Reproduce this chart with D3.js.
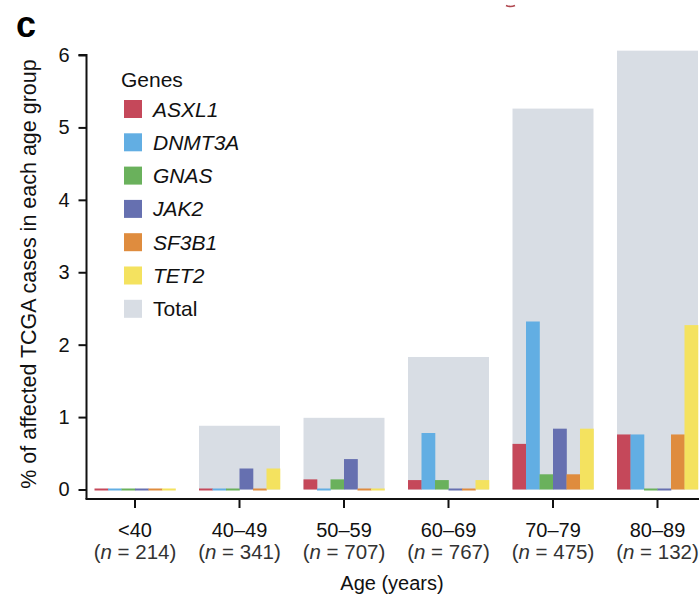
<!DOCTYPE html>
<html>
<head>
<meta charset="utf-8">
<script src="https://cdn.jsdelivr.net/npm/d3@7/dist/d3.min.js"></script>
<style>
  html, body { margin: 0; padding: 0; background: #fff; }
  svg { display: block; font-family: "Liberation Sans", Arial, Helvetica, sans-serif; }
</style>
</head>
<body>
<svg id="chart" width="699" height="596"></svg>
<script>
// Age groups and cohort sizes
const ages = ["<40", "40–49", "50–59", "60–69", "70–79", "80–89"];
const cohortSizes = [214, 341, 707, 767, 475, 132];

// Genes shown in each group and their colours
const genes = ["ASXL1", "DNMT3A", "GNAS", "JAK2", "SF3B1", "TET2"];
const geneColors = ["#c5485a", "#62aee3", "#6ab15c", "#6670b0", "#df8c3e", "#f4e25f"];
const totalColor = "#d8dde4";

// % of affected cases per age group
const asxl1  = [0, 0,    0.14, 0.13, 0.63, 0.76];
const dnmt3a = [0, 0,    0,    0.78, 2.32, 0.76];
const gnas   = [0, 0,    0.14, 0.13, 0.21, 0];
const jak2   = [0, 0.29, 0.42, 0,    0.84, 0];
const sf3b1  = [0, 0,    0,    0,    0.21, 0.76];
const tet2   = [0, 0.29, 0,    0.13, 0.84, 2.27];
const totals = [0, 0.88, 0.99, 1.83, 5.26, 6.06];

const yTicks = [0, 1, 2, 3, 4, 5, 6];

const geneSeries = [asxl1, dnmt3a, gnas, jak2, sf3b1, tet2];

const svg = d3.select("#chart");

const y = d3.scaleLinear().domain([0, 6]).range([489.5, 55]);
const x = d3.scaleBand().domain(ages).range([82.75, 709.75])
  .paddingInner(0.225).paddingOuter(0.1125);
const xg = d3.scaleBand().domain(genes).range([0, x.bandwidth()]);
const color = d3.scaleOrdinal().domain(genes).range(geneColors);

// Total bars behind the gene bars
svg.append("g").selectAll("rect")
  .data(ages.map((a, i) => ({ age: a, v: totals[i] })).filter(d => d.v > 0))
  .join("rect")
  .attr("x", d => x(d.age))
  .attr("width", x.bandwidth())
  .attr("y", d => y(d.v))
  .attr("height", d => y(0) - y(d.v))
  .attr("fill", totalColor);

// Gene bars; zero values remain visible as a thin strip on the baseline
const groups = svg.append("g").selectAll("g")
  .data(ages)
  .join("g")
  .attr("transform", d => `translate(${x(d)},0)`);

groups.selectAll("rect")
  .data((a, i) => genes.map((g, j) => ({ gene: g, v: geneSeries[j][i] })))
  .join("rect")
  .attr("x", d => xg(d.gene))
  .attr("width", xg.bandwidth() + 0.3)
  .attr("y", d => d.v > 0 ? y(d.v) : y(0) - 1)
  .attr("height", d => d.v > 0 ? y(0) - y(d.v) : 2)
  .attr("fill", d => color(d.gene));

// Y axis
const yAxis = d3.axisLeft(y).tickValues(yTicks).tickSize(8).tickPadding(9).tickFormat(d3.format("d"));
const yg = svg.append("g").attr("transform", "translate(86.5,0)").call(yAxis);
yg.select(".domain").attr("d", "M-8,55H0V499").attr("stroke", "#111").attr("stroke-width", 2).attr("fill", "none");
yg.selectAll(".tick line").attr("stroke", "#111").attr("stroke-width", 2);
yg.selectAll(".tick text").attr("font-size", 20).attr("fill", "#111").attr("font-family", null);

// X axis
const xAxis = d3.axisBottom(x).tickSize(9).tickFormat("").tickSizeOuter(0);
const xa = svg.append("g").attr("transform", "translate(0,499)").call(xAxis);
xa.select(".domain").attr("d", "M85.5,0H699").attr("stroke", "#111").attr("stroke-width", 2);
xa.selectAll(".tick line").attr("stroke", "#111").attr("stroke-width", 2);

// Category labels with cohort sizes
const lab = svg.append("g").attr("font-size", 20).attr("fill", "#111").attr("text-anchor", "middle");
lab.selectAll("text.age")
  .data(ages)
  .join("text")
  .attr("class", "age")
  .attr("x", d => x(d) + x.bandwidth() / 2)
  .attr("y", 537)
  .text(d => d);
const nLab = lab.selectAll("text.n")
  .data(ages.map((a, i) => ({ age: a, n: cohortSizes[i] })))
  .join("text")
  .attr("class", "n")
  .attr("x", d => x(d.age) + x.bandwidth() / 2)
  .attr("y", 559)
  .attr("font-size", 20.5)
  .attr("fill", "#333");
nLab.append("tspan").text("(");
nLab.append("tspan").attr("font-style", "italic").text("n");
nLab.append("tspan").text(d => ` = ${d.n})`);

// Axis titles
svg.append("text")
  .attr("x", 392).attr("y", 590)
  .attr("text-anchor", "middle").attr("font-size", 20).attr("fill", "#111")
  .text("Age (years)");
svg.append("text")
  .attr("transform", "translate(35.5,274) rotate(-90)")
  .attr("text-anchor", "middle").attr("font-size", 21.5).attr("fill", "#111")
  .text("% of affected TCGA cases in each age group");

// Panel letter
svg.append("text")
  .attr("x", 16).attr("y", 37)
  .attr("font-size", 36).attr("font-weight", "bold").attr("fill", "#000")
  .text("c");

// Fragment of a neighbouring panel's mark
svg.append("path")
  .attr("d", "M506,5.5Q510.5,7.5 515,5.5")
  .attr("stroke", "#b0474f").attr("stroke-width", 1.6).attr("fill", "none");

// Legend
const legend = svg.append("g").attr("font-size", 21).attr("fill", "#111");
legend.append("text").attr("x", 121).attr("y", 87).text("Genes");
const items = genes.map((g, i) => ({ label: g, fill: geneColors[i], italic: true }))
  .concat([{ label: "Total", fill: totalColor, italic: false }]);
const li = legend.selectAll("g.item")
  .data(items)
  .join("g")
  .attr("class", "item")
  .attr("transform", (d, i) => `translate(124,${100 + i * 33.3})`);
li.append("rect").attr("width", 18).attr("height", 18).attr("fill", d => d.fill);
li.append("text")
  .attr("x", 29).attr("y", 16.5)
  .attr("font-style", d => d.italic ? "italic" : "normal")
  .text(d => d.label);
</script>
</body>
</html>
